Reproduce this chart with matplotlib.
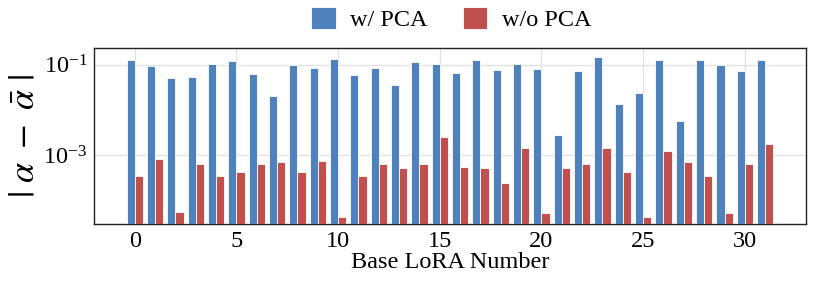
import numpy as np
import matplotlib
matplotlib.use("Agg")
import matplotlib.pyplot as plt

# base LoRA index 0..31
lora_ids = list(range(32))
with_pca = [0.129, 0.095, 0.050, 0.054, 0.105, 0.123, 0.063, 0.0206,
            0.097, 0.086, 0.138, 0.061, 0.086, 0.036, 0.116, 0.103,
            0.065, 0.129, 0.076, 0.103, 0.080, 0.0028, 0.075, 0.150,
            0.0135, 0.024, 0.129, 0.00575, 0.129, 0.100, 0.072, 0.127]
without_pca = [3.4e-4, 8.3e-4, 5.5e-5, 6.3e-4, 3.5e-4, 4.3e-4, 6.3e-4, 7.2e-4,
               4.3e-4, 7.5e-4, 4.2e-5, 3.4e-4, 6.3e-4, 5.2e-4, 6.3e-4, 2.6e-3,
               5.4e-4, 5.2e-4, 2.4e-4, 1.43e-3, 5.4e-5, 5.2e-4, 6.3e-4, 1.43e-3,
               4.3e-4, 4.2e-5, 1.23e-3, 7.2e-4, 3.4e-4, 5.4e-5, 6.3e-4, 1.78e-3]

plt.rcParams['font.family'] = ['Liberation Serif', 'DejaVu Serif']
plt.rcParams['mathtext.fontset'] = 'stix'

fig = plt.figure(figsize=(8.14, 2.92), dpi=100)
ax = fig.add_axes([0.1155, 0.233, 0.8745, 0.603])

x = np.array(lora_ids)
w = 0.4
ax.bar(x - w/2, with_pca, w, color='#4F81BD', edgecolor='white', linewidth=0.6,
       label='w/ PCA', zorder=3)
ax.bar(x + w/2, without_pca, w, color='#C0504D', edgecolor='white', linewidth=0.6,
       label='w/o PCA', zorder=3)

ax.set_yscale('log')
ax.set_ylim(10**-4.52, 10**-0.624)
ax.set_xlim(-2, 33)
ax.set_yticks([1e-3, 1e-1])
ax.yaxis.set_minor_locator(matplotlib.ticker.NullLocator())
ax.set_xticks([0, 5, 10, 15, 20, 25, 30])
ax.tick_params(length=0, labelsize=17.5, pad=5)
ax.grid(True, color='#e0e0e0', linewidth=0.9, zorder=0)
for s in ax.spines.values():
    s.set_color('#222222')
    s.set_linewidth(1.0)

ax.set_xlabel('Base LoRA Number', fontsize=17.5, labelpad=0)
ax.set_ylabel(r'$|\ \alpha\ -\ \bar{\alpha}\ |$', fontsize=26, labelpad=1)

ax.legend(loc='lower center', bbox_to_anchor=(0.502, 0.97), ncol=2, frameon=False,
          fontsize=17.5, handlelength=1.0, handleheight=1.0, columnspacing=1.45,
          handletextpad=0.6)

fig.savefig('out.png', dpi=100)
